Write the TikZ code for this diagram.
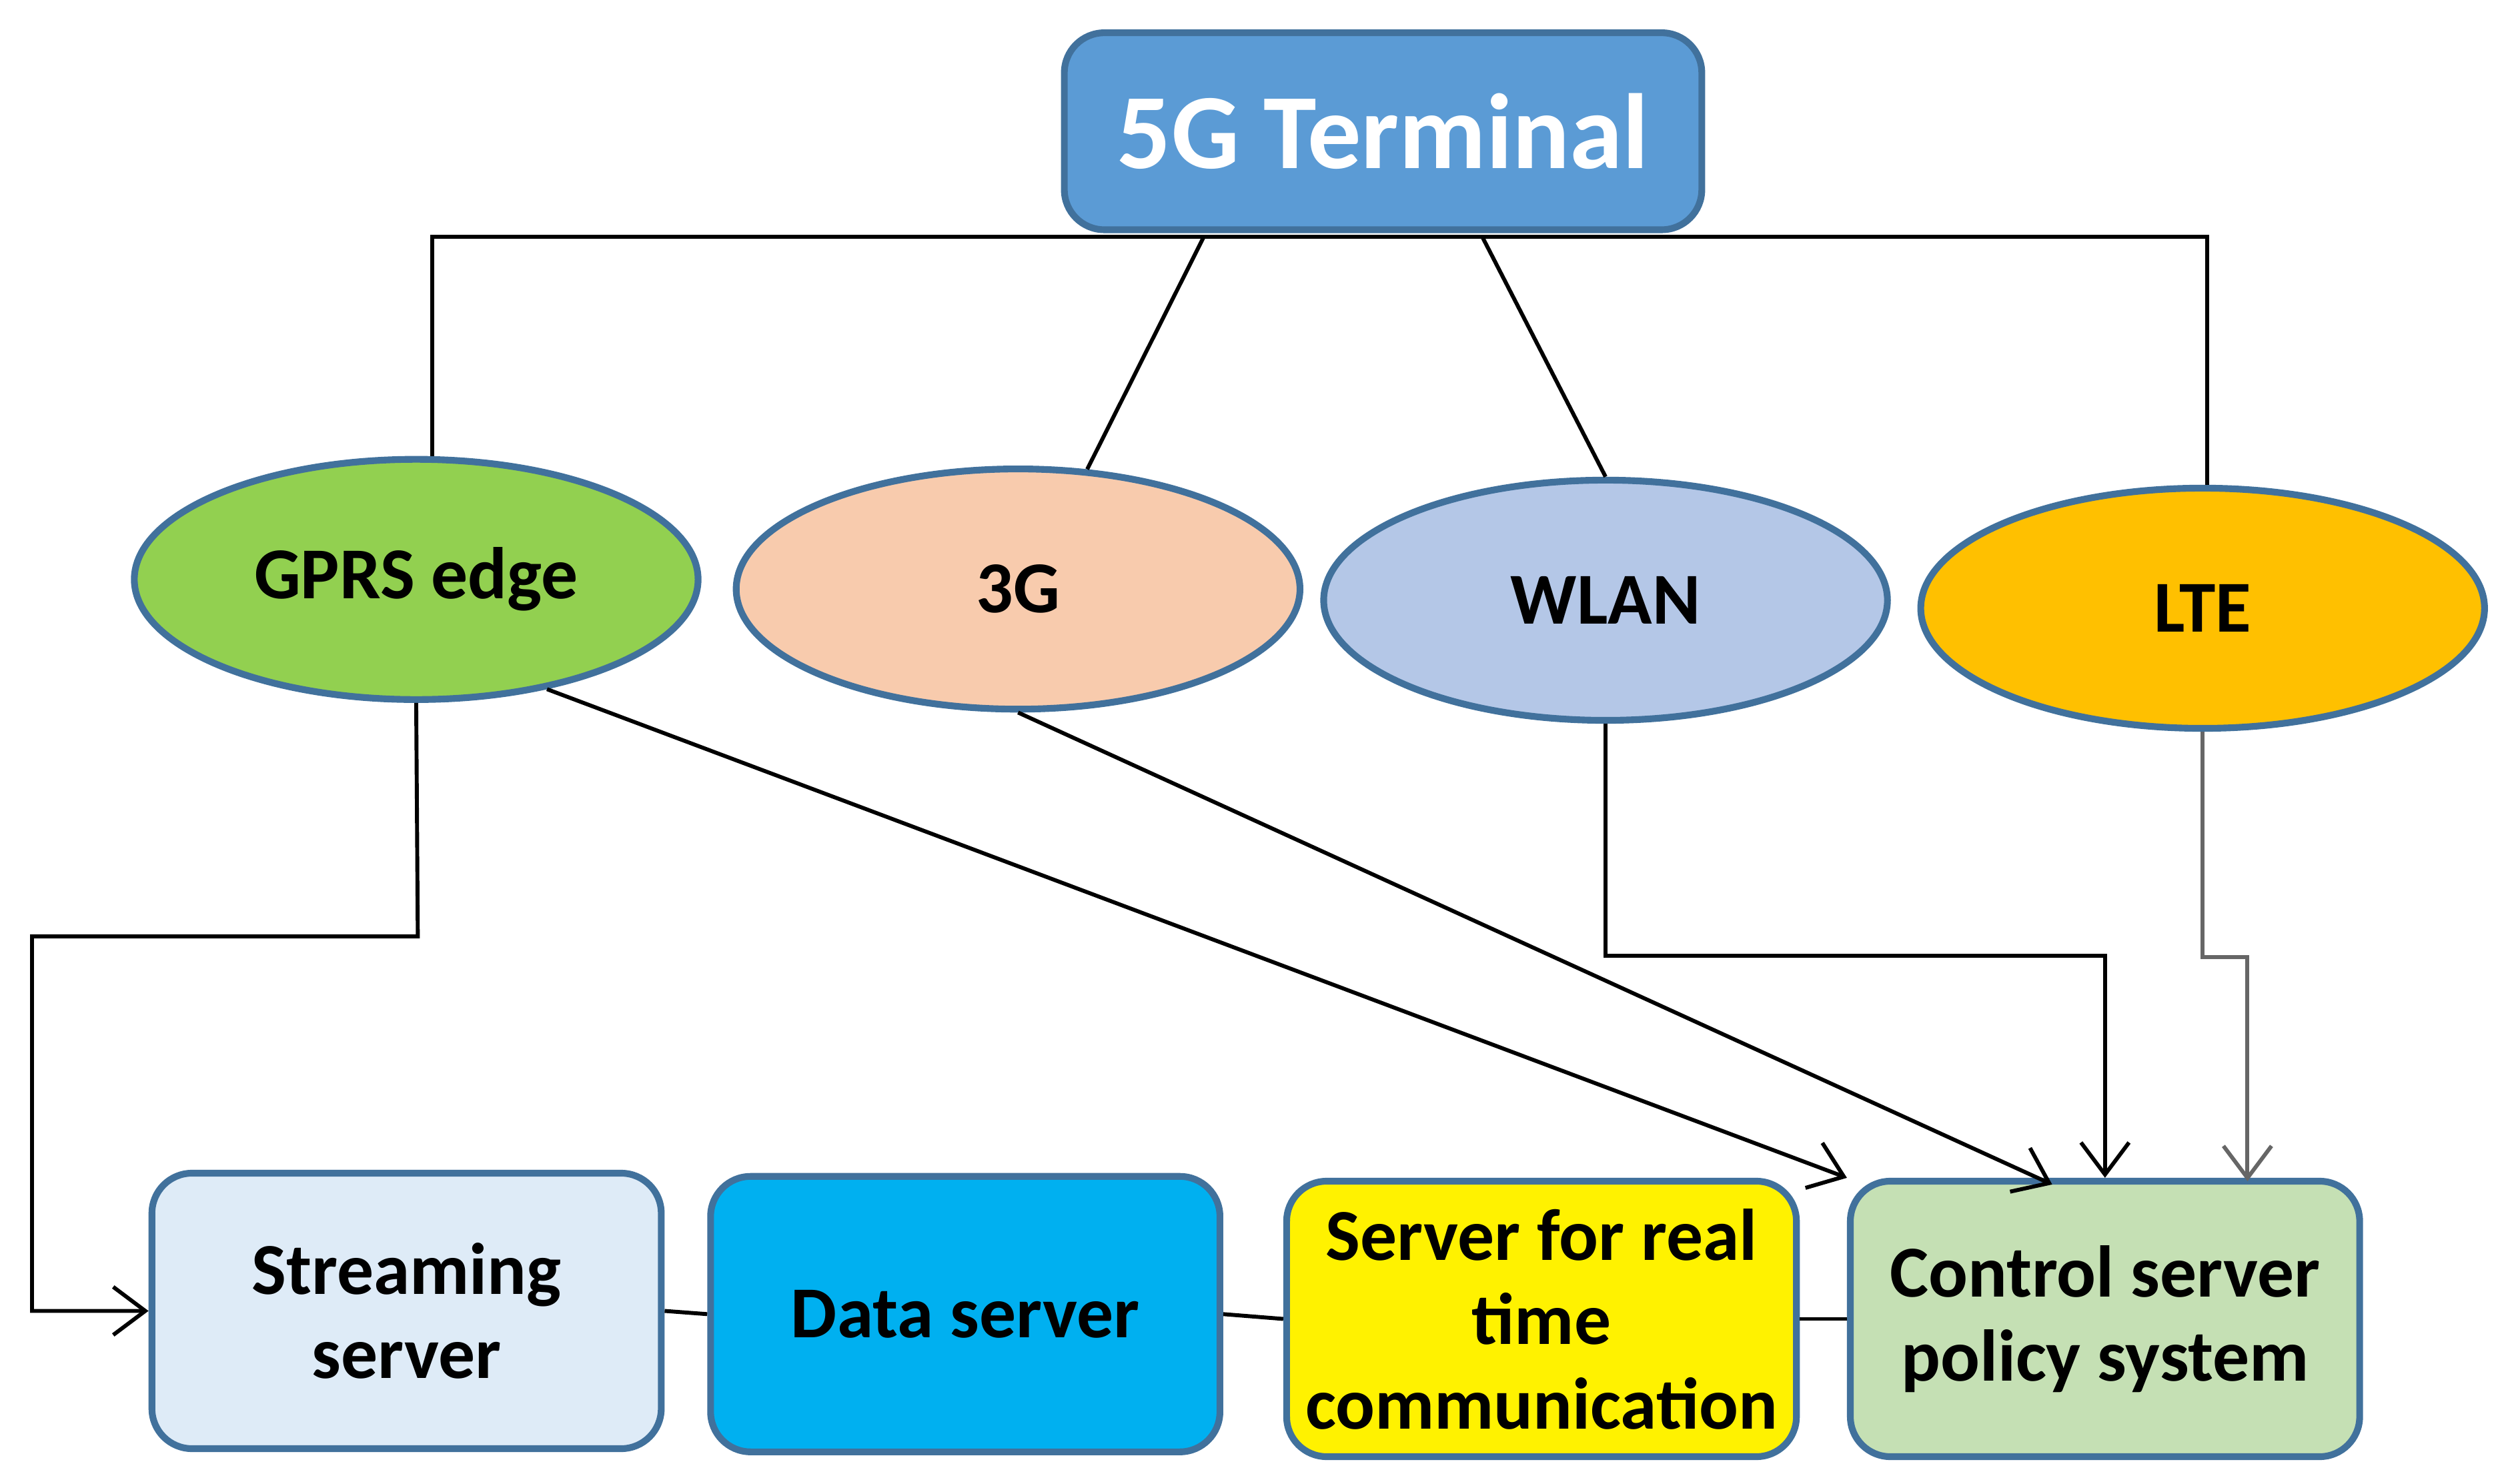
\documentclass[tikz,border=0pt]{standalone}
\usepackage{fontspec}
\setmainfont{Carlito}
\usetikzlibrary{shapes.geometric,arrows.meta}

\definecolor{edgeblue}{HTML}{41719C}
\definecolor{termblue}{HTML}{5B9BD5}

\tikzset{
  net/.style={ellipse,draw=edgeblue,line width=1.2pt,minimum width=3.52cm,
    minimum height=1.5cm,font=\fontsize{13}{13}\selectfont\bfseries},
  srv/.style={draw=edgeblue,line width=1.2pt,rounded corners=0.25cm,
    minimum width=3.18cm,minimum height=1.72cm,align=center,
    font=\fontsize{13}{15}\selectfont\bfseries},
  link/.style={line width=0.7pt},
  arr/.style={line width=0.7pt,-{Straight Barb[length=0.2cm,width=0.3cm]}}
}

\begin{document}
\begin{tikzpicture}[x=0.01cm,y=-0.01cm]
  \useasboundingbox (0,0) rectangle (1568,927);

  %% terminal on top
  \node[draw=edgeblue,line width=1.2pt,fill=termblue,rounded corners=0.25cm,
    minimum width=3.98cm,minimum height=1.23cm,text=white,
    font=\fontsize{19}{19}\selectfont\bfseries] (T) at (864,82) {5G Terminal};

  %% access networks
  \node[net,fill={rgb,255:red,146;green,208;blue,80}] (GPRS) at (260,362) {GPRS edge};
  \node[net,fill={rgb,255:red,248;green,203;blue,173}] (G3) at (636,368) {3G};
  \node[net,fill={rgb,255:red,180;green,199;blue,231}] (WLAN) at (1003,375) {WLAN};
  \node[net,fill={rgb,255:red,255;green,192;blue,0}] (LTE) at (1376,380) {LTE};

  %% servers
  \node[srv,fill={rgb,255:red,222;green,235;blue,247}] (SS) at (254,819) {Streaming\\server};
  \node[srv,fill={rgb,255:red,0;green,176;blue,240}] (DS) at (603,821) {Data server};
  \node[srv,fill=yellow] (RT) at (963,824) {Server for real\\time\\communication};
  \node[srv,fill={rgb,255:red,197;green,224;blue,180}] (CS) at (1315,824) {Control server\\policy system};

  %% terminal to networks
  \coordinate (BL) at (270,148);
  \coordinate (BR) at (1379,148);
  \draw[link] (GPRS.north -| BL) -- (BL) -- (BR) -- (LTE.north -| BR);
  \draw[link] (G3.60) -- (752,148);
  \draw[link] (WLAN.north) -- (926,148);

  %% networks to servers
  \draw[arr] (GPRS.south) -- (261,585) -- (20,585) |- (SS.west);
  \draw[arr] (GPRS.-40) -- (CS.north west);
  \draw[arr] (G3.south) -- (1282,740);
  \draw[arr] (WLAN.south) -- (1003,597) -| (CS.north);
  \draw[arr,gray!80!black] (LTE.south) -- (1376,598) -- (1404,598) -- (1404,738);

  %% between servers
  \draw[link] (SS.east) -- (DS.west);
  \draw[link] (DS.east) -- (RT.west);
  \draw[link] (RT.east) -- (CS.west);
\end{tikzpicture}
\end{document}
